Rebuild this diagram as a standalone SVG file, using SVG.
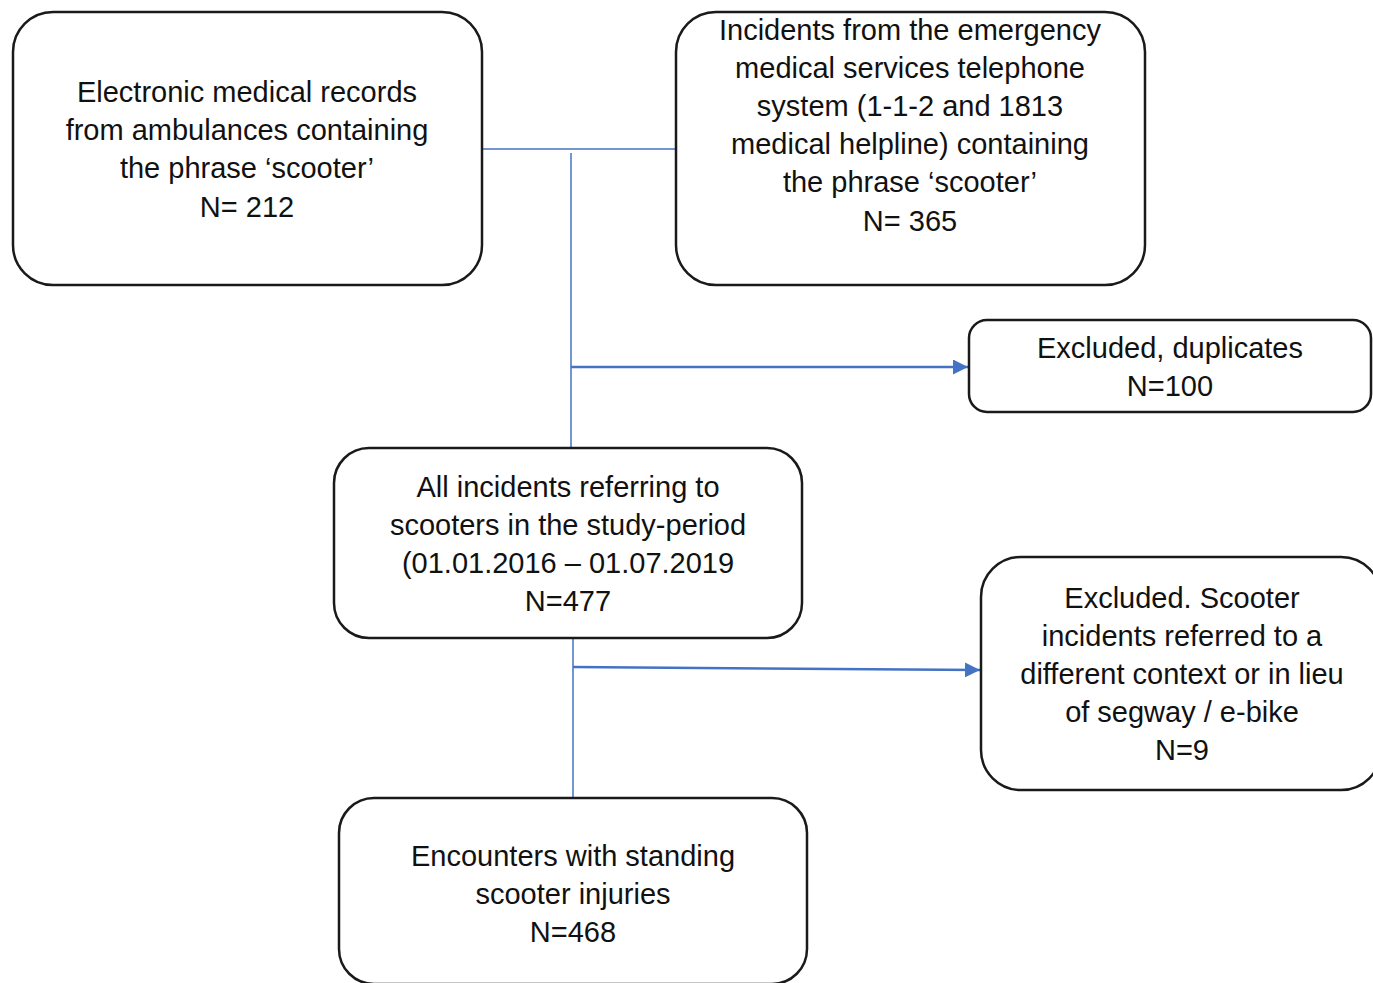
<svg xmlns="http://www.w3.org/2000/svg" width="1373" height="983" viewBox="0 0 1373 983">
<defs>
<style>
.box{fill:#fff;stroke:#1a1a1a;stroke-width:2.5}
.t{font-family:"Liberation Sans",Arial,sans-serif;font-size:29px;fill:#111;text-anchor:middle}
.ln{stroke:#4472c4;stroke-width:1.5;fill:none}
.ar{stroke:#4472c4;stroke-width:2.5;fill:none}
</style>
<marker id="ah" viewBox="0 0 10 10" refX="10" refY="5" markerWidth="6" markerHeight="6" markerUnits="strokeWidth" orient="auto">
<path d="M0,0 L10,5 L0,10 z" fill="#4472c4"/>
</marker>
</defs>
<rect width="1373" height="983" fill="#fff"/>
<g id="connectors">
<line class="ln" x1="482" y1="149" x2="676" y2="149"/>
<line class="ln" x1="571" y1="153" x2="571" y2="448"/>
<line class="ar" x1="571" y1="367" x2="968" y2="367" marker-end="url(#ah)"/>
<line class="ln" x1="573" y1="638" x2="573" y2="798"/>
<line class="ar" x1="573" y1="667" x2="980" y2="670" marker-end="url(#ah)"/>
</g>
<g id="n1">
<rect class="box" x="13" y="12" width="469" height="273" rx="40"/>
<text class="t"><tspan x="247" y="102">Electronic medical records</tspan><tspan x="247" y="140">from ambulances containing</tspan><tspan x="247" y="178">the phrase ‘scooter’</tspan><tspan x="247" y="217">N= 212</tspan></text>
</g>
<g id="n2">
<rect class="box" x="676" y="12" width="469" height="273" rx="40"/>
<text class="t"><tspan x="910" y="40">Incidents from the emergency</tspan><tspan x="910" y="78">medical services telephone</tspan><tspan x="910" y="116">system (1-1-2 and 1813</tspan><tspan x="910" y="154">medical helpline) containing</tspan><tspan x="910" y="192">the phrase ‘scooter’</tspan><tspan x="910" y="231">N= 365</tspan></text>
</g>
<g id="n3">
<rect class="box" x="969" y="320" width="402" height="92" rx="18"/>
<text class="t"><tspan x="1170" y="358">Excluded, duplicates</tspan><tspan x="1170" y="396">N=100</tspan></text>
</g>
<g id="n4">
<rect class="box" x="334" y="448" width="468" height="190" rx="35"/>
<text class="t"><tspan x="568" y="497">All incidents referring to</tspan><tspan x="568" y="535">scooters in the study-period</tspan><tspan x="568" y="573">(01.01.2016 – 01.07.2019</tspan><tspan x="568" y="611">N=477</tspan></text>
</g>
<g id="n5">
<rect class="box" x="981" y="557" width="400" height="233" rx="40"/>
<text class="t"><tspan x="1182" y="608">Excluded. Scooter</tspan><tspan x="1182" y="646">incidents referred to a</tspan><tspan x="1182" y="684">different context or in lieu</tspan><tspan x="1182" y="722">of segway / e-bike</tspan><tspan x="1182" y="760">N=9</tspan></text>
</g>
<g id="n6">
<rect class="box" x="339" y="798" width="468" height="186" rx="35"/>
<text class="t"><tspan x="573" y="866">Encounters with standing</tspan><tspan x="573" y="904">scooter injuries</tspan><tspan x="573" y="942">N=468</tspan></text>
</g>
</svg>
